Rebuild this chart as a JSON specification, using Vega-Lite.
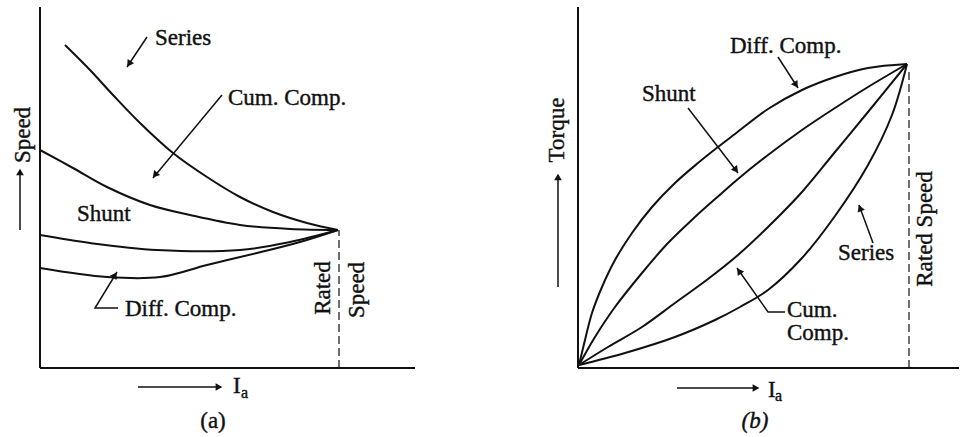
{
  "$schema": "https://vega.github.io/schema/vega-lite/v6.json",
  "padding": 0,
  "spacing": 0,
  "background": "white",
  "config": {"view": {"stroke": null}, "text": {"stroke": "#111", "strokeWidth": 0.4}},
  "hconcat": [
    {
      "width": 480,
      "height": 437,
      "encoding": {
        "x": {"field": "x", "type": "quantitative", "scale": {"domain": [-40, 440], "nice": false, "zero": false}, "axis": null},
        "y": {"field": "y", "type": "quantitative", "scale": {"domain": [-69, 368], "nice": false, "zero": false}, "axis": null}
      },
      "layer": [
        {
          "data": {"values": [{"x": 0, "y": 0, "x2": 375, "y2": 0}, {"x": 0, "y": 0, "x2": 0, "y2": 361}]},
          "mark": {"type": "rule", "color": "#111", "strokeWidth": 2},
          "encoding": {"x2": {"field": "x2"}, "y2": {"field": "y2"}}
        },
        {
          "data": {"values": [{"x": 299, "y": 0, "x2": 299, "y2": 138}]},
          "mark": {"type": "rule", "color": "#111", "strokeWidth": 1.2, "strokeDash": [8, 4]},
          "encoding": {"x2": {"field": "x2"}, "y2": {"field": "y2"}}
        },
        {
          "data": {"values": [
            {"curve": "Series", "x": 25, "y": 323}, {"curve": "Series", "x": 50, "y": 298}, {"curve": "Series", "x": 73, "y": 273},
            {"curve": "Series", "x": 100, "y": 245}, {"curve": "Series", "x": 133, "y": 215}, {"curve": "Series", "x": 167, "y": 191},
            {"curve": "Series", "x": 200, "y": 171}, {"curve": "Series", "x": 233, "y": 156}, {"curve": "Series", "x": 267, "y": 145},
            {"curve": "Series", "x": 298, "y": 138},
            {"curve": "Cum. Comp.", "x": 0, "y": 218}, {"curve": "Cum. Comp.", "x": 33, "y": 200}, {"curve": "Cum. Comp.", "x": 67, "y": 181},
            {"curve": "Cum. Comp.", "x": 110, "y": 163}, {"curve": "Cum. Comp.", "x": 150, "y": 153}, {"curve": "Cum. Comp.", "x": 200, "y": 143},
            {"curve": "Cum. Comp.", "x": 250, "y": 139}, {"curve": "Cum. Comp.", "x": 298, "y": 138},
            {"curve": "Shunt", "x": 0, "y": 133}, {"curve": "Shunt", "x": 50, "y": 125}, {"curve": "Shunt", "x": 117, "y": 118},
            {"curve": "Shunt", "x": 200, "y": 118}, {"curve": "Shunt", "x": 250, "y": 126}, {"curve": "Shunt", "x": 298, "y": 138},
            {"curve": "Diff. Comp.", "x": 0, "y": 100}, {"curve": "Diff. Comp.", "x": 67, "y": 91}, {"curve": "Diff. Comp.", "x": 120, "y": 91},
            {"curve": "Diff. Comp.", "x": 167, "y": 103}, {"curve": "Diff. Comp.", "x": 217, "y": 115}, {"curve": "Diff. Comp.", "x": 260, "y": 126},
            {"curve": "Diff. Comp.", "x": 298, "y": 138}
          ]},
          "mark": {"type": "line", "color": "#111", "strokeWidth": 2, "interpolate": "catmull-rom"},
          "encoding": {"detail": {"field": "curve"}}
        },
        {
          "data": {"values": [
            {"id": 1, "seq": 0, "x": 107, "y": 331}, {"id": 1, "seq": 1, "x": 87, "y": 301},
            {"id": 2, "seq": 0, "x": 182, "y": 273}, {"id": 2, "seq": 1, "x": 113, "y": 190},
            {"id": 3, "seq": 0, "x": 78, "y": 60}, {"id": 3, "seq": 1, "x": 55, "y": 60}, {"id": 3, "seq": 2, "x": 77, "y": 96},
            {"id": 4, "seq": 0, "x": -20, "y": 138}, {"id": 4, "seq": 1, "x": -20, "y": 198},
            {"id": 5, "seq": 0, "x": 98, "y": -19}, {"id": 5, "seq": 1, "x": 181, "y": -19}
          ]},
          "mark": {"type": "line", "color": "#111", "strokeWidth": 1.5},
          "encoding": {"detail": {"field": "id"}, "order": {"field": "seq"}}
        },
        {
          "data": {"values": [
            {"x": 89, "y": 304, "dir": 123.7},
            {"x": 115, "y": 193, "dir": 129.8},
            {"x": 75, "y": 93, "dir": -58.6},
            {"x": -20, "y": 196, "dir": -90},
            {"x": 179, "y": -19, "dir": 0}
          ]},
          "mark": {"type": "point", "shape": "triangle-right", "filled": true, "size": 60, "color": "#111", "opacity": 1},
          "encoding": {"angle": {"field": "dir", "type": "quantitative", "scale": null}}
        },
        {
          "data": {"values": [
            {"label": "Series", "x": 115, "y": 323},
            {"label": "Cum. Comp.", "x": 188, "y": 263},
            {"label": "Shunt", "x": 37, "y": 147},
            {"label": "Diff. Comp.", "x": 85, "y": 52},
            {"label": "I", "x": 193, "y": -25}
          ]},
          "mark": {"type": "text", "font": "Liberation Serif", "fontSize": 23, "color": "#111", "align": "left", "baseline": "alphabetic"},
          "encoding": {"text": {"field": "label"}}
        },
        {
          "data": {"values": [{"label": "(a)", "x": 173, "y": -60}]},
          "mark": {"type": "text", "font": "Liberation Serif", "fontSize": 23, "color": "#111", "align": "center", "baseline": "alphabetic"},
          "encoding": {"text": {"field": "label"}}
        },
        {
          "data": {"values": [{"label": "a", "x": 201, "y": -30}]},
          "mark": {"type": "text", "font": "Liberation Serif", "fontSize": 16, "color": "#111", "align": "left", "baseline": "alphabetic"},
          "encoding": {"text": {"field": "label"}}
        },
        {
          "data": {"values": [
            {"label": "Speed", "x": -17, "y": 233},
            {"label": "Rated", "x": 283, "y": 80},
            {"label": "Speed", "x": 317, "y": 78}
          ]},
          "mark": {"type": "text", "font": "Liberation Serif", "fontSize": 23, "color": "#111", "align": "center", "baseline": "middle", "angle": 270},
          "encoding": {"text": {"field": "label"}}
        }
      ]
    },
    {
      "width": 480,
      "height": 437,
      "encoding": {
        "x": {"field": "x", "type": "quantitative", "scale": {"domain": [-98, 382], "nice": false, "zero": false}, "axis": null},
        "y": {"field": "y", "type": "quantitative", "scale": {"domain": [-69, 368], "nice": false, "zero": false}, "axis": null}
      },
      "layer": [
        {
          "data": {"values": [{"x": 0, "y": 0, "x2": 381, "y2": 0}, {"x": 0, "y": 0, "x2": 0, "y2": 361}]},
          "mark": {"type": "rule", "color": "#111", "strokeWidth": 2},
          "encoding": {"x2": {"field": "x2"}, "y2": {"field": "y2"}}
        },
        {
          "data": {"values": [{"x": 331, "y": 0, "x2": 331, "y2": 297}]},
          "mark": {"type": "rule", "color": "#111", "strokeWidth": 1.2, "strokeDash": [8, 4]},
          "encoding": {"x2": {"field": "x2"}, "y2": {"field": "y2"}}
        },
        {
          "data": {"values": [
            {"curve": "Diff. Comp.", "x": 1, "y": 3}, {"curve": "Diff. Comp.", "x": 7, "y": 28}, {"curve": "Diff. Comp.", "x": 14, "y": 55},
            {"curve": "Diff. Comp.", "x": 24, "y": 81}, {"curve": "Diff. Comp.", "x": 37, "y": 108}, {"curve": "Diff. Comp.", "x": 54, "y": 135},
            {"curve": "Diff. Comp.", "x": 74, "y": 161}, {"curve": "Diff. Comp.", "x": 97, "y": 185}, {"curve": "Diff. Comp.", "x": 120, "y": 205},
            {"curve": "Diff. Comp.", "x": 140, "y": 221}, {"curve": "Diff. Comp.", "x": 157, "y": 234}, {"curve": "Diff. Comp.", "x": 190, "y": 259},
            {"curve": "Diff. Comp.", "x": 224, "y": 278}, {"curve": "Diff. Comp.", "x": 257, "y": 291}, {"curve": "Diff. Comp.", "x": 290, "y": 300},
            {"curve": "Diff. Comp.", "x": 329, "y": 304},
            {"curve": "Shunt", "x": 1, "y": 3}, {"curve": "Shunt", "x": 17, "y": 31}, {"curve": "Shunt", "x": 37, "y": 61},
            {"curve": "Shunt", "x": 64, "y": 95}, {"curve": "Shunt", "x": 90, "y": 125}, {"curve": "Shunt", "x": 117, "y": 151},
            {"curve": "Shunt", "x": 144, "y": 175}, {"curve": "Shunt", "x": 160, "y": 189}, {"curve": "Shunt", "x": 190, "y": 213},
            {"curve": "Shunt", "x": 224, "y": 238}, {"curve": "Shunt", "x": 257, "y": 260}, {"curve": "Shunt", "x": 290, "y": 281},
            {"curve": "Shunt", "x": 329, "y": 304},
            {"curve": "Cum. Comp.", "x": 1, "y": 3}, {"curve": "Cum. Comp.", "x": 30, "y": 21}, {"curve": "Cum. Comp.", "x": 64, "y": 41},
            {"curve": "Cum. Comp.", "x": 97, "y": 65}, {"curve": "Cum. Comp.", "x": 130, "y": 89}, {"curve": "Cum. Comp.", "x": 160, "y": 113},
            {"curve": "Cum. Comp.", "x": 190, "y": 141}, {"curve": "Cum. Comp.", "x": 224, "y": 176}, {"curve": "Cum. Comp.", "x": 257, "y": 216},
            {"curve": "Cum. Comp.", "x": 290, "y": 256}, {"curve": "Cum. Comp.", "x": 329, "y": 304},
            {"curve": "Series", "x": 1, "y": 3}, {"curve": "Series", "x": 47, "y": 15}, {"curve": "Series", "x": 97, "y": 31},
            {"curve": "Series", "x": 137, "y": 48}, {"curve": "Series", "x": 162, "y": 61}, {"curve": "Series", "x": 190, "y": 78},
            {"curve": "Series", "x": 224, "y": 110}, {"curve": "Series", "x": 257, "y": 152}, {"curve": "Series", "x": 290, "y": 203},
            {"curve": "Series", "x": 314, "y": 253}, {"curve": "Series", "x": 329, "y": 304}
          ]},
          "mark": {"type": "line", "color": "#111", "strokeWidth": 2, "interpolate": "catmull-rom"},
          "encoding": {"detail": {"field": "curve"}}
        },
        {
          "data": {"values": [
            {"id": 1, "seq": 0, "x": 200, "y": 311}, {"id": 1, "seq": 1, "x": 220, "y": 280},
            {"id": 2, "seq": 0, "x": 110, "y": 260}, {"id": 2, "seq": 1, "x": 160, "y": 195},
            {"id": 3, "seq": 0, "x": 295, "y": 125}, {"id": 3, "seq": 1, "x": 281, "y": 163},
            {"id": 4, "seq": 0, "x": 207, "y": 56}, {"id": 4, "seq": 1, "x": 190, "y": 56}, {"id": 4, "seq": 2, "x": 159, "y": 100},
            {"id": 5, "seq": 0, "x": -20, "y": 81}, {"id": 5, "seq": 1, "x": -20, "y": 193},
            {"id": 6, "seq": 0, "x": 99, "y": -20}, {"id": 6, "seq": 1, "x": 180, "y": -20}
          ]},
          "mark": {"type": "line", "color": "#111", "strokeWidth": 1.5},
          "encoding": {"detail": {"field": "id"}, "order": {"field": "seq"}}
        },
        {
          "data": {"values": [
            {"x": 218, "y": 283, "dir": 57.2},
            {"x": 158, "y": 198, "dir": 52.4},
            {"x": 282, "y": 160, "dir": -111.8},
            {"x": 161, "y": 97, "dir": -126.4},
            {"x": -20, "y": 191, "dir": -90},
            {"x": 178, "y": -20, "dir": 0}
          ]},
          "mark": {"type": "point", "shape": "triangle-right", "filled": true, "size": 60, "color": "#111", "opacity": 1},
          "encoding": {"angle": {"field": "dir", "type": "quantitative", "scale": null}}
        },
        {
          "data": {"values": [
            {"label": "Diff. Comp.", "x": 152, "y": 315},
            {"label": "Shunt", "x": 64, "y": 267},
            {"label": "Series", "x": 260, "y": 108},
            {"label": "Cum.", "x": 209, "y": 51},
            {"label": "Comp.", "x": 209, "y": 28},
            {"label": "I", "x": 190, "y": -29}
          ]},
          "mark": {"type": "text", "font": "Liberation Serif", "fontSize": 23, "color": "#111", "align": "left", "baseline": "alphabetic"},
          "encoding": {"text": {"field": "label"}}
        },
        {
          "data": {"values": [{"label": "(b)", "x": 177, "y": -60}]},
          "mark": {"type": "text", "font": "Liberation Serif", "fontSize": 23, "fontStyle": "italic", "color": "#111", "align": "center", "baseline": "alphabetic"},
          "encoding": {"text": {"field": "label"}}
        },
        {
          "data": {"values": [{"label": "a", "x": 197, "y": -33}]},
          "mark": {"type": "text", "font": "Liberation Serif", "fontSize": 16, "color": "#111", "align": "left", "baseline": "alphabetic"},
          "encoding": {"text": {"field": "label"}}
        },
        {
          "data": {"values": [
            {"label": "Torque", "x": -21, "y": 238},
            {"label": "Rated Speed", "x": 347, "y": 139}
          ]},
          "mark": {"type": "text", "font": "Liberation Serif", "fontSize": 23, "color": "#111", "align": "center", "baseline": "middle", "angle": 270},
          "encoding": {"text": {"field": "label"}}
        }
      ]
    }
  ]
}
